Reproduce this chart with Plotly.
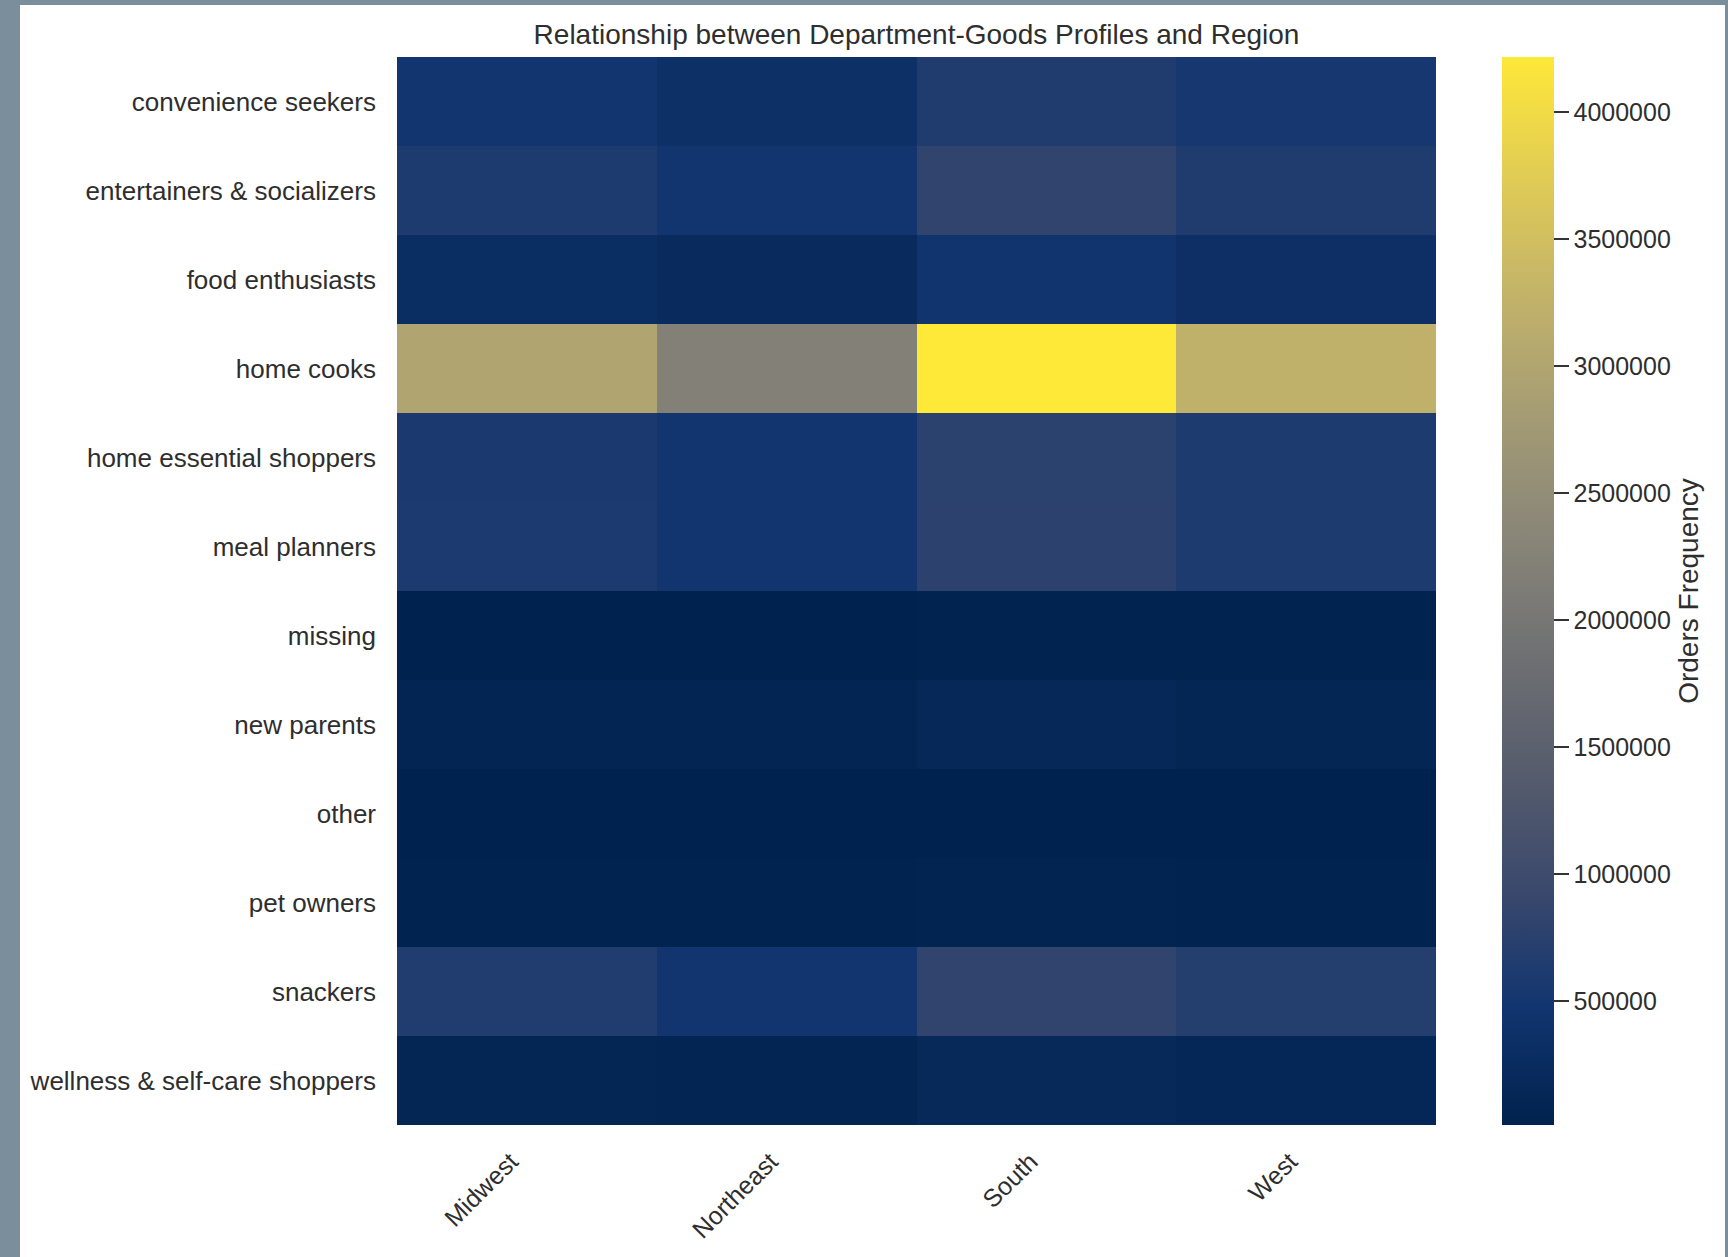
import plotly.graph_objects as go

# Customer profiles (rows) and regions (columns)
profiles = [
    "convenience seekers",
    "entertainers & socializers",
    "food enthusiasts",
    "home cooks",
    "home essential shoppers",
    "meal planners",
    "missing",
    "new parents",
    "other",
    "pet owners",
    "snackers",
    "wellness & self-care shoppers",
]
regions = ["Midwest", "Northeast", "South", "West"]

# Order counts per region, one value per profile
midwest = [470000, 610000, 280000, 2980000, 580000, 590000, 22000, 95000, 12000, 40000, 650000, 110000]
northeast = [360000, 480000, 220000, 2220000, 470000, 480000, 17000, 80000, 11000, 30000, 480000, 95000]
south = [640000, 820000, 460000, 4218000, 760000, 770000, 30000, 160000, 15000, 55000, 830000, 180000]
west = [520000, 640000, 340000, 3240000, 610000, 620000, 24000, 110000, 13000, 45000, 680000, 130000]

cbar_ticks = [500000, 1000000, 1500000, 2000000, 2500000, 3000000, 3500000, 4000000]

z = [list(row) for row in zip(midwest, northeast, south, west)]
all_vals = midwest + northeast + south + west

W, H = 1728, 1257
L, R, T, B = 397, 292, 57, 132
pw, ph = W - L - R, H - T - B


def px_x(p):
    return (p - L) / pw


def px_y(p):
    return (H - B - p) / ph


FONT = "Liberation Sans, Arial, sans-serif"
TXT = "#2e2e2e"

fig = go.Figure(
    go.Heatmap(
        z=z,
        x=regions,
        y=profiles,
        colorscale="Cividis",
        zmin=min(all_vals),
        zmax=max(all_vals),
        colorbar=dict(
            title=dict(text="Orders Frequency", side="right",
                       font=dict(size=28, color=TXT, family=FONT)),
            thickness=52,
            thicknessmode="pixels",
            len=1.0,
            lenmode="fraction",
            x=px_x(1502),
            xanchor="left",
            xpad=0,
            y=0.5,
            yanchor="middle",
            ypad=0,
            outlinewidth=0,
            tickvals=cbar_ticks,
            ticktext=[str(v) for v in cbar_ticks],
            ticks="outside",
            ticklen=15,
            tickwidth=2,
            tickcolor="#333333",
            tickfont=dict(size=25, color=TXT, family=FONT),
        ),
        hovertemplate="%{y}<br>%{x}: %{z}<extra></extra>",
    )
)

fig.update_layout(
    width=W,
    height=H,
    margin=dict(l=L, r=R, t=T, b=B, pad=0),
    paper_bgcolor="#7a8e9c",
    plot_bgcolor="white",
    font=dict(family=FONT, color=TXT, size=25),
    title=dict(
        text="Relationship between Department-Goods Profiles and Region",
        xref="paper",
        x=0.5,
        xanchor="center",
        yref="container",
        y=1 - 34 / H,
        yanchor="middle",
        font=dict(size=28, color=TXT, family=FONT),
    ),
    shapes=[
        dict(
            type="rect", xref="paper", yref="paper", layer="below",
            x0=px_x(20), x1=px_x(1725), y0=px_y(1262), y1=px_y(5),
            fillcolor="white", line=dict(width=0),
        )
    ],
)

fig.update_xaxes(
    tickangle=-45,
    showgrid=False,
    zeroline=False,
    ticks="",
    automargin=False,
    ticklabelstandoff=16,
    ticklabelshift=-16,
    tickfont=dict(size=25, color=TXT, family=FONT),
)
fig.update_yaxes(
    autorange="reversed",
    showgrid=False,
    zeroline=False,
    ticks="",
    automargin=False,
    ticklabelstandoff=20,
    tickfont=dict(size=26, color=TXT, family=FONT),
)

fig.write_html("out.html")
